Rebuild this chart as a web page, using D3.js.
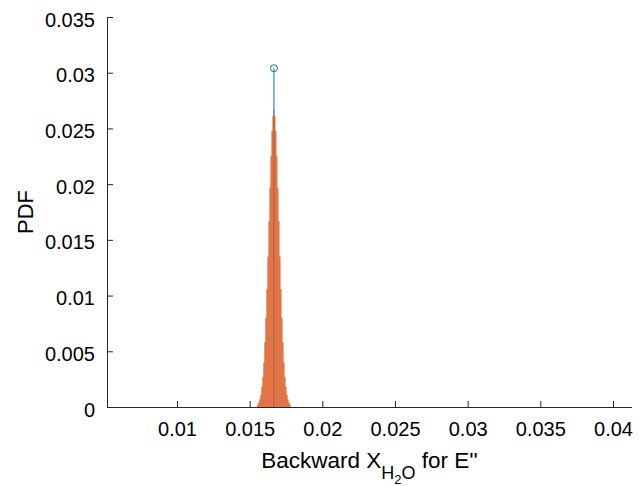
<!DOCTYPE html>
<html>
<head>
<meta charset="utf-8">
<script src="https://cdn.jsdelivr.net/npm/d3@7"></script>
<style>
  html, body { margin: 0; padding: 0; background: #fff; }
  svg { display: block; font-family: "Liberation Sans", Arial, Helvetica, sans-serif; }
</style>
</head>
<body>
<svg id="chart" width="644" height="486"></svg>
<script>
// ---- data ----
const xTicks = [0.01, 0.015, 0.02, 0.025, 0.03, 0.035, 0.04];
const yTicks = [0, 0.005, 0.01, 0.015, 0.02, 0.025, 0.03, 0.035];
const stemX = [0.01667];
const stemY = [0.0304];
const binLeftEdge = 0.015515;
const binWidth = 0.00007;
const pdfValues = [0.0002, 0.0004, 0.0007, 0.0011, 0.0018, 0.0027, 0.0040, 0.0058,
  0.0080, 0.0106, 0.0135, 0.0167, 0.0197, 0.0225, 0.0248, 0.0261, 0.0267, 0.0261,
  0.0248, 0.0225, 0.0197, 0.0167, 0.0135, 0.0106, 0.0080, 0.0058, 0.0040, 0.0027,
  0.0018, 0.0011, 0.0007, 0.0004, 0.0002];

// ---- layout ----
const svg = d3.select("#chart");
const L = 107, R = 632, T = 17, B = 407;
const axisColor = "#262626";
const x = d3.scaleLinear().domain([0.005183, 0.041307]).range([L, R]);
const y = d3.scaleLinear().domain([0, 0.035]).range([B, T]);

// stem (drawn first, histogram overlays it)
const g = svg.append("g");
g.selectAll("line.stem").data(stemX).enter().append("line")
  .attr("class", "stem")
  .attr("x1", d => x(d)).attr("x2", d => x(d))
  .attr("y1", y(0)).attr("y2", (d, i) => y(stemY[i]))
  .attr("stroke", "#0072BD").attr("stroke-width", 1);
g.selectAll("circle.stem").data(stemX).enter().append("circle")
  .attr("cx", d => x(d)).attr("cy", (d, i) => y(stemY[i])).attr("r", 3.5)
  .attr("fill", "none").attr("stroke", "#0072BD").attr("stroke-width", 1);

// histogram (drawn as one stepped area so no seams appear)
const bins = pdfValues.map((v, i) => ({x0: binLeftEdge + i * binWidth, x1: binLeftEdge + (i + 1) * binWidth, v}));
const pts = [];
bins.forEach(d => { pts.push([d.x0, d.v]); pts.push([d.x1, d.v]); });
g.append("path")
  .attr("d", d3.area().x(p => x(p[0])).y0(y(0)).y1(p => y(p[1]))(pts))
  .attr("fill", "#D95319").attr("fill-opacity", 0.8);

// axes
const xAxis = d3.axisBottom(x).tickValues(xTicks).tickSize(-6).tickPadding(15)
  .tickFormat(d => String(+d.toFixed(3)));
const gx = svg.append("g").attr("transform", `translate(0,${B})`).call(xAxis);
gx.select(".domain").attr("d", `M${L},0.5H${R}`).attr("stroke", axisColor);
gx.selectAll(".tick line").attr("stroke", axisColor);
gx.selectAll(".tick text").attr("fill", "#000").attr("font-size", 20).attr("dy", "0.71em");

const yAxis = d3.axisLeft(y).tickValues(yTicks).tickSize(-6).tickPadding(12)
  .tickFormat(d => String(+d.toFixed(3)));
const gy = svg.append("g").attr("transform", `translate(${L},0)`).call(yAxis);
gy.select(".domain").attr("d", `M0.5,${T}V${B}`).attr("stroke", axisColor);
gy.selectAll(".tick line").attr("stroke", axisColor);
gy.selectAll(".tick text").attr("fill", "#000").attr("font-size", 20).attr("dy", "0.45em");

// titles
const xt = svg.append("text").attr("x", (L + R) / 2).attr("y", 468)
  .attr("text-anchor", "middle").attr("font-size", 22.5).attr("fill", "#000");
xt.append("tspan").text("Backward X");
xt.append("tspan").attr("font-size", 18).attr("dy", 11).text("H");
xt.append("tspan").attr("font-size", 13).attr("dy", 5).text("2");
xt.append("tspan").attr("font-size", 18).attr("dy", -5).text("O");
xt.append("tspan").attr("dy", -11).text(" for E''");

svg.append("text").attr("transform", `translate(33,${(T + B) / 2}) rotate(-90)`)
  .attr("text-anchor", "middle").attr("font-size", 22).attr("fill", "#000").text("PDF");
</script>
</body>
</html>
